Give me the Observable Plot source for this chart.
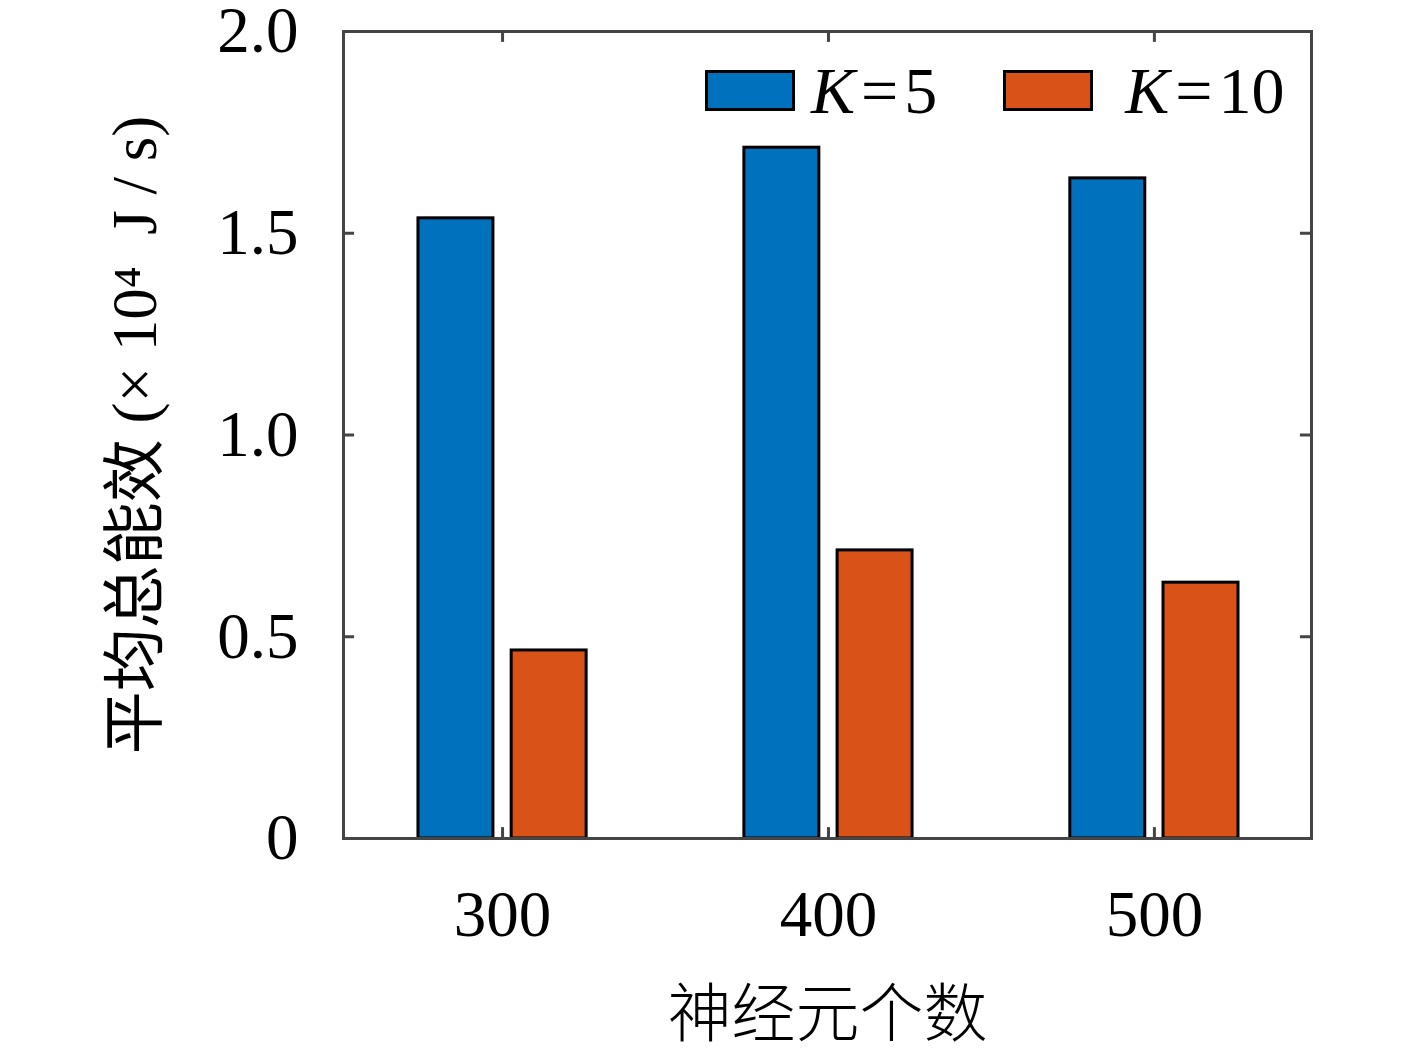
<!DOCTYPE html>
<html>
<head>
<meta charset="utf-8">
<script src="https://cdn.jsdelivr.net/npm/d3@7"></script>
<script src="https://cdn.jsdelivr.net/npm/@observablehq/plot@0.6"></script>
<style>
  html, body { margin: 0; padding: 0; background: #fff; }
  #wrap { position: relative; width: 1417px; height: 1051px; }
  #legend { position: absolute; left: 705px; top: 70px; height: 41px; display: flex; align-items: center;
    font-family: "Liberation Serif", serif; font-size: 66px; color: #000; line-height: 1; }
  .sw { width: 84px; height: 35px; border: 3px solid #000; flex: none; }
  .lab { white-space: nowrap; }
</style>
</head>
<body>
<div id="wrap"><div id="legend"></div></div>
<script>
// ---- data ----
const neurons = [300, 400, 500];
const seriesNames = ["K=5", "K=10"];
const k5 = [1.537, 1.712, 1.636];
const k10 = [0.466, 0.714, 0.634];
const seriesColors = ["#0072BD", "#D95319"];
const yTicks = [0, 0.5, 1.0, 1.5, 2.0];
const yTickLabels = ["0", "0.5", "1.0", "1.5", "2.0"];
const xLabel = "神经元个数";
const yLabel = "平均总能效 (× 10⁴  J / s)";

// ---- layout ----
const xDomain = [251.2, 548.2];
const yDomain = [0, 2];
const barW = 23;       // bar width in x units
const barOff = 14.3;   // center offset of each series in x units
const tickLenX = 3.4;  // inward tick length in x units
const tickLenY = 0.027; // inward tick length in y units
const legendGaps = [[16, 66], [32, 0]]; // [before text, after text] in px

const rows = [];
neurons.forEach((n, i) => {
  rows.push({n, series: seriesNames[0], v: k5[i], off: -barOff});
  rows.push({n, series: seriesNames[1], v: k10[i], off: barOff});
});

const serif = "'Liberation Serif', 'Noto Sans CJK SC', serif";
const axisColor = "#454545";

const chart = Plot.plot({
  width: 1417,
  height: 1051,
  marginLeft: 343,
  marginRight: 106,
  marginTop: 31,
  marginBottom: 213,
  style: {background: "white", fontFamily: serif},
  x: {domain: xDomain, axis: null},
  y: {domain: yDomain, axis: null},
  color: {domain: seriesNames, range: seriesColors},
  marks: [
    Plot.rectY(rows, {
      x1: d => d.n + d.off - barW / 2,
      x2: d => d.n + d.off + barW / 2,
      y1: 0, y2: "v",
      fill: "series", stroke: "black", strokeWidth: 3
    }),
    // inward ticks: left/right
    Plot.ruleY(yTicks, {y: d => d, x1: xDomain[0], x2: xDomain[0] + tickLenX, stroke: axisColor, strokeWidth: 3}),
    Plot.ruleY(yTicks, {y: d => d, x1: xDomain[1] - tickLenX, x2: xDomain[1], stroke: axisColor, strokeWidth: 3}),
    // inward ticks: bottom/top
    Plot.ruleX(neurons, {x: d => d, y1: yDomain[0], y2: yDomain[0] + tickLenY, stroke: axisColor, strokeWidth: 3}),
    Plot.ruleX(neurons, {x: d => d, y1: yDomain[1] - tickLenY, y2: yDomain[1], stroke: axisColor, strokeWidth: 3}),
    Plot.frame({stroke: axisColor, strokeWidth: 3}),
    // tick labels
    Plot.text(yTicks, {
      y: d => d, frameAnchor: "left", text: (d, i) => yTickLabels[i],
      textAnchor: "end", dx: -45, fontSize: 65, fill: "black"
    }),
    Plot.text(neurons, {
      x: d => d, frameAnchor: "bottom", text: d => String(d),
      lineAnchor: "top", dy: 51, fontSize: 65, fill: "black"
    }),
    // axis titles
    Plot.text([xLabel], {
      frameAnchor: "bottom", text: d => d, textAnchor: "middle", lineAnchor: "middle",
      dy: 177, fontSize: 64, fill: "black",
      fontFamily: "'Noto Sans CJK SC', sans-serif", fontWeight: 300
    }),
    Plot.text([yLabel], {
      frameAnchor: "left", text: d => d, rotate: -90, textAnchor: "middle", lineAnchor: "middle",
      dx: -208, fontSize: 63, fill: "black"
    })
  ]
});

document.getElementById("wrap").prepend(chart);

const legend = document.getElementById("legend");
seriesNames.forEach((name, i) => {
  const sw = document.createElement("div");
  sw.className = "sw";
  sw.style.background = seriesColors[i];
  legend.appendChild(sw);
  const lab = document.createElement("span");
  lab.className = "lab";
  lab.style.marginLeft = legendGaps[i][0] + "px";
  lab.style.marginRight = legendGaps[i][1] + "px";
  const [k, v] = name.split("=");
  lab.innerHTML = `<i>${k}</i><span style="margin:0 6px">=</span>${v}`;
  legend.appendChild(lab);
});
</script>
</body>
</html>
